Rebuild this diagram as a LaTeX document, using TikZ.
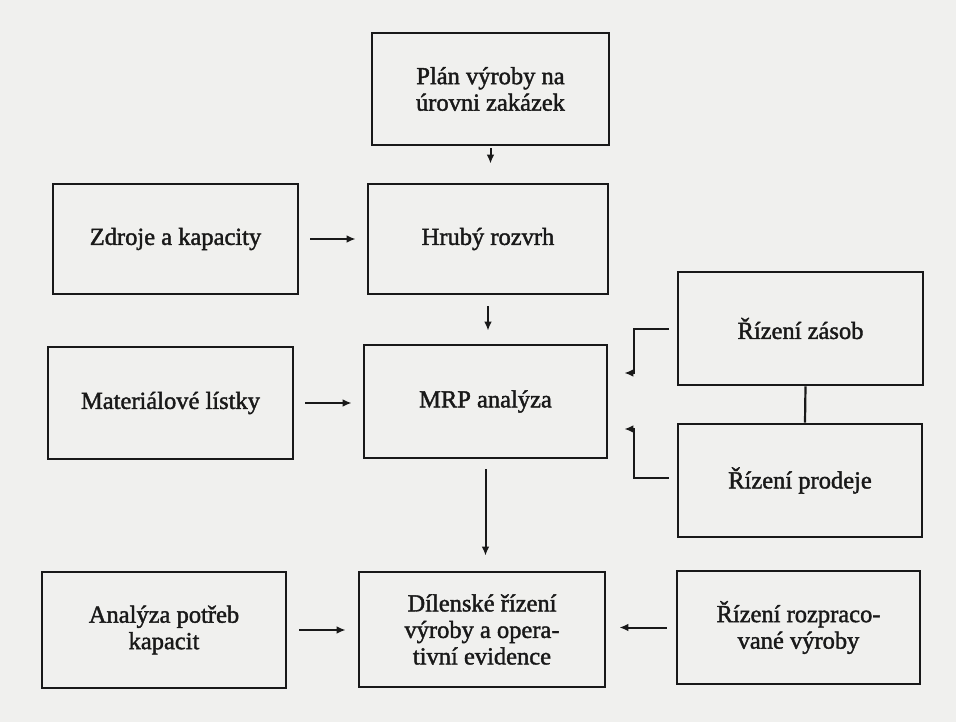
\documentclass[tikz,border=0pt]{standalone}
\usepackage{fontspec}
\setmainfont{Liberation Serif}
\newfontfamily\boxfont{Liberation Serif}[FakeBold=1.6]
\usetikzlibrary{arrows.meta,calc}
\definecolor{paper}{RGB}{240,240,238}
\definecolor{ink}{RGB}{25,25,25}

\begin{document}
\begin{tikzpicture}[x=1pt,y=-1pt,
  box/.style={draw=ink, line width=2.6pt, align=center, inner sep=0pt,
    font=\boxfont\fontsize{24.5}{26.5}\selectfont, text=ink},
  arr/.style={draw=ink, line width=2pt, -{Latex[length=9pt,width=7.5pt]}},
  link/.style={draw=ink, line width=2.2pt}]

  % paper background fixes the page size
  \fill[paper] (0,0) rectangle (956,722);
  \useasboundingbox (0,0) rectangle (956,722);

  % process boxes
  \node[box, minimum width=237, minimum height=112] (plan)   at (490.5,89)  {Plán výroby na\\úrovni zakázek};
  \node[box, minimum width=245, minimum height=110] (zdroje) at (175.5,239) {Zdroje a kapacity};
  \node[box, minimum width=240, minimum height=110] (hruby)  at (488,239)   {Hrubý rozvrh};
  \node[box, minimum width=245, minimum height=112] (mater)  at (170.5,403) {Materiálové lístky};
  \node[box, minimum width=243, minimum height=113] (mrp)    at (485.5,401.5) {MRP analýza};
  \node[box, minimum width=245, minimum height=113] (zasob)  at (800.5,328.5) {Řízení zásob};
  \node[box, minimum width=244, minimum height=113] (prodej) at (800,480.5) {Řízení prodeje};
  \node[box, minimum width=244, minimum height=116] (analyza) at (164,630)  {Analýza potřeb\\kapacit};
  \node[box, minimum width=246, minimum height=115] (dilen)  at (482,629.5) {Dílenské řízení\\výroby a opera-\\tivní evidence};
  \node[box, minimum width=243, minimum height=113] (rozpr)  at (798.5,627.5) {Řízení rozpraco-\\vané výroby};

  % straight arrows
  \draw[arr, shorten <=2pt, shorten >=19pt] (plan.south) -- (plan.south |- hruby.north);
  \draw[arr, shorten <=11pt, shorten >=11pt] (zdroje.east) -- (zdroje.east -| hruby.west);
  \draw[arr, shorten <=11pt, shorten >=13pt] (hruby.south) -- (hruby.south |- mrp.north);
  \draw[arr, shorten <=11pt, shorten >=11pt] (mater.east) -- (mater.east -| mrp.west);
  \draw[arr, shorten <=10pt, shorten >=15pt] (mrp.south) -- (mrp.south |- dilen.north);
  \draw[arr, shorten <=12pt, shorten >=12pt] (analyza.east) -- (analyza.east -| dilen.west);
  \draw[arr, shorten <=9pt, shorten >=13pt] (rozpr.west) -- (rozpr.west -| dilen.east);

  % link between the two control boxes
  \draw[link] ([xshift=5pt]zasob.south) -- ([xshift=5pt]prodej.north);

  % elbow arrows into the MRP analysis
  \coordinate (zin) at ($(mrp.east)+(16,-28.5)$);
  \coordinate (pin) at ($(mrp.east)+(16,27.5)$);
  \draw[arr] ([xshift=-8pt]zasob.west) -| ([xshift=10pt]zin) -- (zin);
  \draw[arr] ($(prodej.west)+(-8,-2.5)$) -| ([xshift=10pt]pin) -- (pin);
\end{tikzpicture}
\end{document}
